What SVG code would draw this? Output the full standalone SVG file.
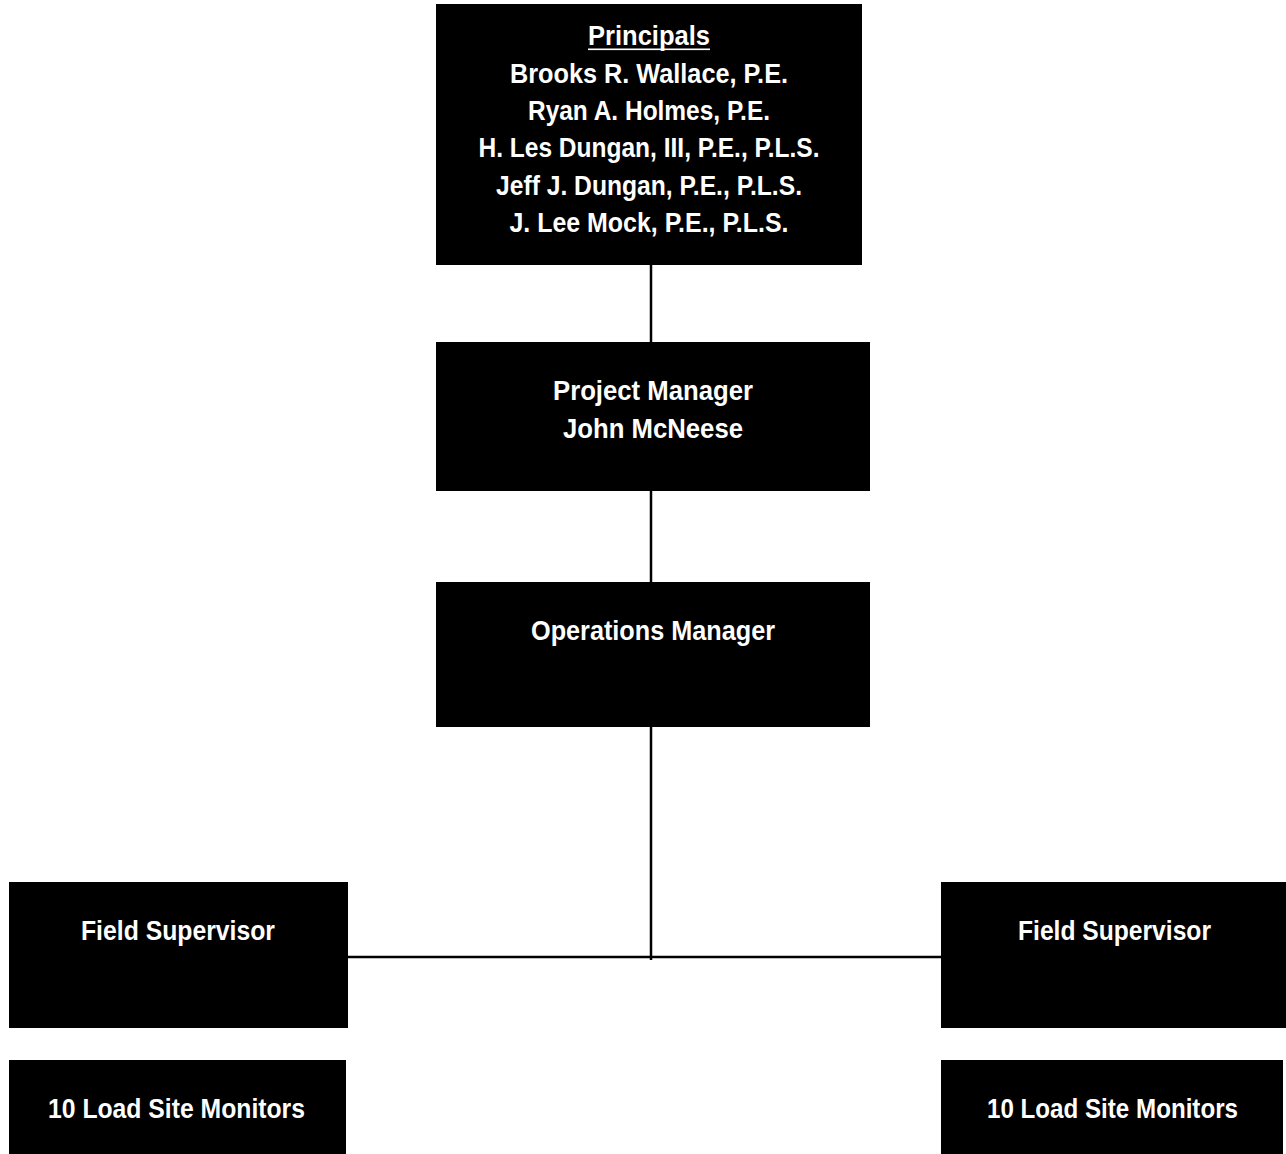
<svg xmlns="http://www.w3.org/2000/svg" width="1286" height="1154" viewBox="0 0 1286 1154">
<style>
.box{fill:#000}
.t{fill:#fff;font-family:"Liberation Sans",Arial,sans-serif;font-weight:bold;font-size:27px;text-anchor:middle}
.ln{stroke:#000;stroke-width:2.5;fill:none}
</style>
<rect width="1286" height="1154" fill="#fff"/>
<g id="connectors">
<line class="ln" x1="651" y1="264" x2="651" y2="343"/>
<line class="ln" x1="651" y1="490" x2="651" y2="583"/>
<line class="ln" x1="651" y1="726" x2="651" y2="960"/>
<line class="ln" x1="347" y1="957" x2="942" y2="957"/>
</g>
<g id="principals">
<rect class="box" x="436" y="4" width="426" height="261"/>
<text class="t" x="649" y="45" textLength="122" lengthAdjust="spacingAndGlyphs">Principals</text>
<rect x="588" y="48.5" width="122" height="1.6" fill="#fff"/>
<text class="t" x="649" y="83" textLength="278" lengthAdjust="spacingAndGlyphs">Brooks R. Wallace, P.E.</text>
<text class="t" x="649" y="120" textLength="242" lengthAdjust="spacingAndGlyphs">Ryan A. Holmes, P.E.</text>
<text class="t" x="649" y="157" textLength="341" lengthAdjust="spacingAndGlyphs">H. Les Dungan, III, P.E., P.L.S.</text>
<text class="t" x="649" y="195" textLength="306" lengthAdjust="spacingAndGlyphs">Jeff J. Dungan, P.E., P.L.S.</text>
<text class="t" x="649" y="232" textLength="279" lengthAdjust="spacingAndGlyphs">J. Lee Mock, P.E., P.L.S.</text>
</g>
<g id="project-manager">
<rect class="box" x="436" y="342" width="434" height="149"/>
<text class="t" x="653" y="400" textLength="200" lengthAdjust="spacingAndGlyphs">Project Manager</text>
<text class="t" x="653" y="438" textLength="180" lengthAdjust="spacingAndGlyphs">John McNeese</text>
</g>
<g id="operations-manager">
<rect class="box" x="436" y="582" width="434" height="145"/>
<text class="t" x="653" y="640" textLength="244" lengthAdjust="spacingAndGlyphs">Operations Manager</text>
</g>
<g id="field-supervisor-left">
<rect class="box" x="9" y="882" width="339" height="146"/>
<text class="t" x="178" y="940" textLength="194" lengthAdjust="spacingAndGlyphs">Field Supervisor</text>
</g>
<g id="field-supervisor-right">
<rect class="box" x="941" y="882" width="345" height="146"/>
<text class="t" x="1114.5" y="940" textLength="193" lengthAdjust="spacingAndGlyphs">Field Supervisor</text>
</g>
<g id="monitors-left">
<rect class="box" x="9" y="1060" width="337" height="94"/>
<text class="t" x="176.5" y="1118" textLength="257" lengthAdjust="spacingAndGlyphs">10 Load Site Monitors</text>
</g>
<g id="monitors-right">
<rect class="box" x="941" y="1060" width="342" height="94"/>
<text class="t" x="1112.5" y="1118" textLength="251" lengthAdjust="spacingAndGlyphs">10 Load Site Monitors</text>
</g>
</svg>
